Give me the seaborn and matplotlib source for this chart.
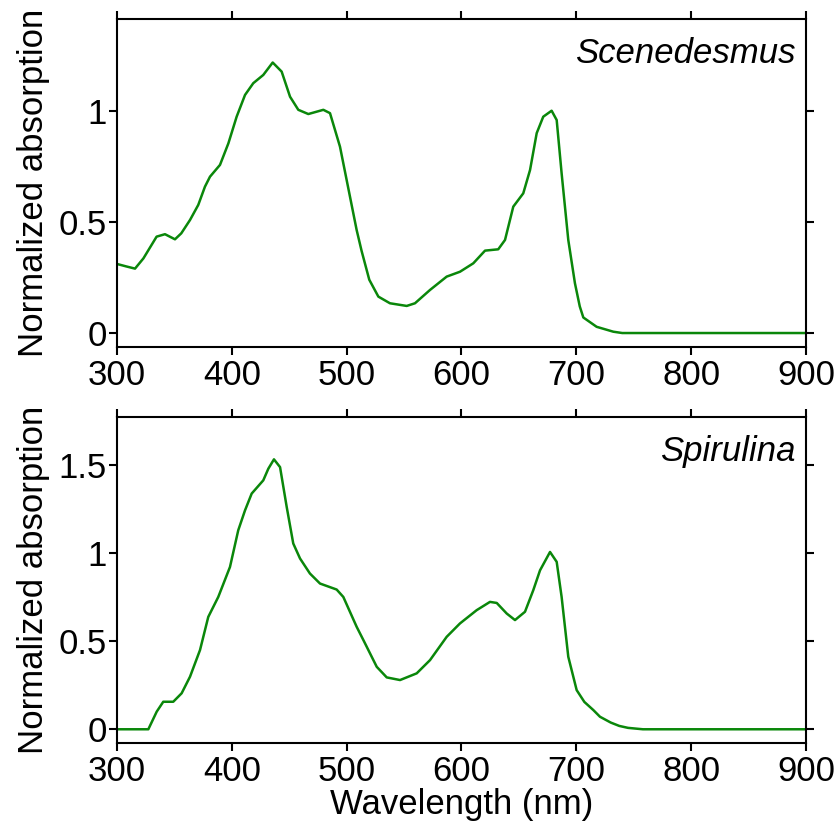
import matplotlib
matplotlib.use("Agg")
import matplotlib.pyplot as plt
import seaborn as sns
import pandas as pd

# Scenedesmus spectrum (wavelength nm, normalized absorption)
scen_wl = [300, 308, 315.7, 323, 334.5, 341.8, 350.5, 356, 363.6, 370.8, 376.6, 381, 389.7,
           397, 404.2, 411.5, 418.7, 427.4, 435.6, 443.4, 450.7, 457.9, 466.6, 479.7, 485.5,
           494.2, 500, 508.7, 513, 519.7, 527.6, 537.7, 552.3, 559.5, 572.6, 587.1, 598.7,
           610.3, 620.5, 632, 637.9, 645.1, 653.8, 659.7, 665.5, 671.2, 678.5, 682.9, 687.2,
           693, 698.8, 703, 706.1, 717.7, 732.2, 740, 800, 900]
scen_abs = [0.311, 0.30, 0.29, 0.336, 0.434, 0.445, 0.422, 0.449, 0.509, 0.577, 0.659, 0.704, 0.757,
            0.854, 0.974, 1.072, 1.125, 1.162, 1.218, 1.177, 1.064, 1.005, 0.986, 1.005, 0.99,
            0.839, 0.689, 0.464, 0.37, 0.24, 0.164, 0.134, 0.122, 0.134, 0.194, 0.254, 0.276,
            0.314, 0.371, 0.377, 0.419, 0.569, 0.629, 0.734, 0.90, 0.974, 1.001, 0.959, 0.719,
            0.419, 0.224, 0.12, 0.07, 0.028, 0.006, 0.0, 0.0, 0.0]

# Spirulina spectrum
spir_wl = [300, 327.3, 334.6, 340.3, 349, 356.3, 363.6, 372.3, 379.5, 388.2, 398.4, 405.6,
           411.5, 417.3, 427.4, 431.8, 436.7, 442, 447.8, 453.5, 459.4, 468, 476.8, 491.3,
           497.1, 508.7, 515, 526.2, 534.9, 546.5, 561, 572.6, 587.1, 598.7, 613.2, 624.8,
           630.7, 639.4, 646.6, 655.3, 662.5, 668.4, 677.1, 682.9, 687.2, 693, 700.3, 707,
           714.8, 720.6, 730, 737.4, 745, 758, 800, 900]
spir_abs = [0.0, 0.0, 0.1, 0.156, 0.156, 0.204, 0.298, 0.449, 0.637, 0.75, 0.92, 1.128,
            1.241, 1.336, 1.411, 1.477, 1.53, 1.486, 1.26, 1.053, 0.968, 0.883, 0.826, 0.792,
            0.75, 0.581, 0.50, 0.354, 0.294, 0.279, 0.317, 0.392, 0.524, 0.60, 0.675, 0.722,
            0.716, 0.656, 0.619, 0.666, 0.788, 0.901, 1.005, 0.949, 0.75, 0.411, 0.222, 0.155,
            0.109, 0.071, 0.038, 0.019, 0.008, 0.0, 0.0, 0.0]

species = ["Scenedesmus", "Spirulina"]
x_ticks = [300, 400, 500, 600, 700, 800, 900]
y_ticks_top = [0, 0.5, 1]
y_ticks_bot = [0, 0.5, 1, 1.5]

sns.set_style("ticks")
plt.rcParams['font.family'] = ['Liberation Sans', 'DejaVu Sans']
plt.rcParams.update({
    'axes.linewidth': 1.5, 'axes.edgecolor': 'black', 'text.color': 'black',
    'axes.labelcolor': 'black', 'xtick.color': 'black', 'ytick.color': 'black',
})

fig = plt.figure(figsize=(8.38, 8.36), dpi=100)
ax1 = fig.add_axes([0.1396, 0.5849, 0.8222, 0.3924])
ax2 = fig.add_axes([0.1396, 0.1112, 0.8222, 0.3900])

df1 = pd.DataFrame({"wl": scen_wl, "abs": scen_abs})
df2 = pd.DataFrame({"wl": spir_wl, "abs": spir_abs})

green = "#0a870a"
fs = 25
for ax, df, name, yt, ylim in [(ax1, df1, species[0], y_ticks_top, (-0.063, 1.414)),
                                (ax2, df2, species[1], y_ticks_bot, (-0.078, 1.77))]:
    sns.lineplot(data=df, x="wl", y="abs", ax=ax, color=green, linewidth=1.8)
    ax.set_xlim(300, 900)
    ax.set_ylim(*ylim)
    ax.set_xticks(x_ticks)
    ax.set_yticks(yt)
    ax.set_yticklabels([f"{v:g}" for v in yt])
    ax.tick_params(direction='out', top=True, right=True, length=5.5, width=1.5,
                   labelsize=fs, pad=3)
    ax.tick_params(axis='y', pad=2)
    ax.set_ylabel("Normalized absorption", fontsize=fs, labelpad=6)
    ax.set_xlabel("")
    ax.text(0.985, 0.945, name, transform=ax.transAxes, ha='right', va='top',
            fontsize=fs, style='italic')
    for s in ax.spines.values():
        s.set_linewidth(1.5)
        s.set_color('black')

ax2.set_xlabel("Wavelength (nm)", fontsize=fs, labelpad=0)

fig.savefig("out.png", dpi=100)
